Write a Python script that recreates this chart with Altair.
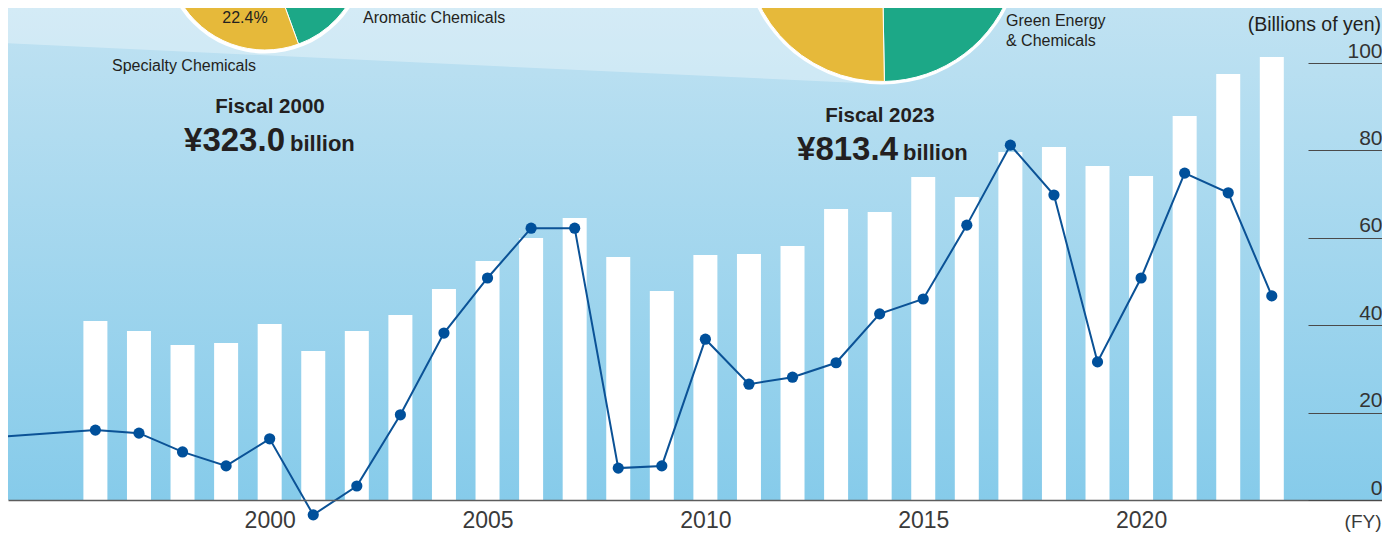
import math
import altair as alt
import pandas as pd

# ---------------- data ----------------
years = list(range(1996, 2024))
net_sales = [328.6, 310.3, 284.6, 288.3, 323.0, 273.6, 310.3, 339.7, 387.4, 438.8,
             481.0, 517.7, 446.1, 383.7, 449.8, 451.6, 466.3, 534.2, 528.7, 593.0,
             556.3, 638.9, 648.1, 613.2, 594.8, 705.0, 782.1, 813.4]
income_years = [1993] + years
income = [13.9, 16.0, 15.3, 11.0, 7.8, 14.0, -3.4, 3.2, 19.5, 38.2, 50.8, 62.2, 62.2,
          7.3, 7.8, 36.8, 26.5, 28.1, 31.4, 42.6, 46.0, 62.9, 81.2, 69.8, 31.6, 50.8,
          74.8, 70.3, 46.7]
x_tick_years = [2000, 2005, 2010, 2015, 2020]
y_tick_values = [0, 20, 40, 60, 80, 100]

pie2000_segments = ["Aromatic Chemicals", "Specialty Chemicals", "Other segments"]
pie2000_shares = [30.0, 22.4, 47.6]
pie2023_segments = ["Green Energy & Chemicals", "Specialty Chemicals", "Other segments"]
pie2023_shares = [40.0, 55.0, 5.0]

# ---------------- layout ----------------
W, H = 1374, 492
PX_YEAR = 43.89
x_domain = [1996 - 83 / PX_YEAR, 1996 + (W - 83) / PX_YEAR]
sales_max = H / (443 / 813.4)
income_max = H / 4.37
FONT = "Liberation Sans"
TXT = "#231f20"

one = pd.DataFrame({"a": [0]})
bars_df = pd.DataFrame({"year": years, "net_sales": net_sales})
inc_df = pd.DataFrame({"year": income_years, "income": income})

x_enc = alt.X(
    "year:Q",
    scale=alt.Scale(domain=x_domain, nice=False, zero=False),
    axis=alt.Axis(
        values=x_tick_years, format="d", ticks=False, tickSize=0, grid=False,
        domainColor="#5c5c5c", domainWidth=1.5, zindex=2,
        labelFont=FONT, labelFontSize=23, labelColor="#3a3a3a",
        labelBaseline="alphabetic", labelPadding=27, labelFlush=False,
        labelOverlap=False,
        title="(FY)", titleX=W - 1, titleY=27, titleAlign="right",
        titleBaseline="alphabetic", titleFont=FONT, titleFontSize=19,
        titleFontWeight="normal", titleColor="#3a3a3a",
    ),
)

background = alt.Chart(one).mark_rect(
    color=alt.Gradient(
        gradient="linear",
        stops=[alt.GradientStop(color="#c0e2f2", offset=0),
               alt.GradientStop(color="#86cbea", offset=1)],
        x1=0, x2=0, y1=0, y2=1,
    )
).encode(x=alt.value(0), x2=alt.value(W), y=alt.value(0), y2=alt.value(H))

band = alt.Chart(one).mark_arc(
    radius=1100, theta=math.radians(272.67), theta2=math.radians(316.4),
    color="white", opacity=0.32,
).encode(x=alt.value(872), y=alt.value(76))

bars = alt.Chart(bars_df).mark_bar(size=24, color="white").encode(
    x=x_enc,
    y=alt.Y("net_sales:Q", scale=alt.Scale(domain=[0, sales_max], nice=False, zero=True), axis=None),
)

y_inc = alt.Y(
    "income:Q",
    scale=alt.Scale(domain=[0, income_max], nice=False, zero=False),
    axis=alt.Axis(
        orient="right", values=y_tick_values, offset=-74, tickSize=74,
        tickColor="#4a4a4a", tickWidth=1.2, domain=False, grid=False, zindex=2,
        labelAlign="right", labelBaseline="alphabetic", labelPadding=0,
        labelOffset=-6, labelFont=FONT, labelFontSize=21, labelColor="#333333",
        title=None,
    ),
)

line = alt.Chart(inc_df).mark_line(color="#0b5296", strokeWidth=2).encode(x=x_enc, y=y_inc)
points = alt.Chart(inc_df).transform_filter(alt.datum.year >= 1996).mark_circle(
    size=125, color="#00509b", opacity=1
).encode(x=x_enc, y=y_inc)
income_layer = alt.layer(line, points)

color_scale = alt.Scale(
    domain=["Green Energy & Chemicals", "Aromatic Chemicals", "Specialty Chemicals", "Other segments"],
    range=["#1ca887", "#1ca887", "#e6b93a", "#4a90c8"],
)


def ring(cx, cy, r):
    return alt.Chart(one).mark_arc(
        radius=r, theta=0, theta2=2 * math.pi, color="white"
    ).encode(x=alt.value(cx), y=alt.value(cy))


def pie(segs, shares, start_deg, cx, cy, r):
    df = pd.DataFrame({"segment": segs, "share": shares, "k": list(range(len(segs)))})
    a = math.radians(start_deg)
    return alt.Chart(df).mark_arc(radius=r, stroke="white", strokeWidth=1).encode(
        theta=alt.Theta("share:Q", stack=True,
                        scale=alt.Scale(domain=[0, 100], range=[a, a + 2 * math.pi])),
        color=alt.Color("segment:N", scale=color_scale, legend=None),
        order=alt.Order("k:Q"),
        x=alt.value(cx), y=alt.value(cy),
    )


pie_left = pie(pie2000_segments, pie2000_shares, 52, 257, -56, 98)
pie_right = pie(pie2023_segments, pie2023_shares, 35, 874, -63, 136.5)


def label(text, x, y, size, weight="normal", align="left"):
    return alt.Chart(one).mark_text(
        text=text, align=align, baseline="alphabetic", font=FONT,
        fontSize=size, fontWeight=weight, color=TXT,
    ).encode(x=alt.value(x), y=alt.value(y))


texts = [
    label("22.4%", 237, 15, 16, align="center"),
    label("Aromatic Chemicals", 355, 15, 16),
    label("Specialty Chemicals", 104, 63, 16),
    label("Green Energy", 998, 18, 16),
    label("& Chemicals", 998, 38, 16),
    label("(Billions of yen)", W - 1, 23, 19.5, align="right"),
    label("Fiscal 2000", 262, 105, 20.5, "bold", "center"),
    label("¥323.0", 277, 143, 33, "bold", "right"),
    label("billion", 282, 143, 22, "bold"),
    label("Fiscal 2023", 872, 114, 20.5, "bold", "center"),
    label("¥813.4", 890, 152, 33, "bold", "right"),
    label("billion", 895, 152, 22, "bold"),
]

chart = alt.layer(
    background, band, bars, income_layer,
    ring(257, -56, 101.5), pie_left,
    ring(874, -63, 139.5), pie_right,
    *texts,
).resolve_scale(
    y="independent", theta="independent"
).properties(
    width=W, height=H,
    autosize=alt.AutoSizeParams(type="none"),
    padding={"left": 0, "top": 0, "right": 0, "bottom": 33},
    background="white",
).configure_view(stroke=None)

chart.save("out.html", embed_options={"renderer": "svg", "actions": False})
